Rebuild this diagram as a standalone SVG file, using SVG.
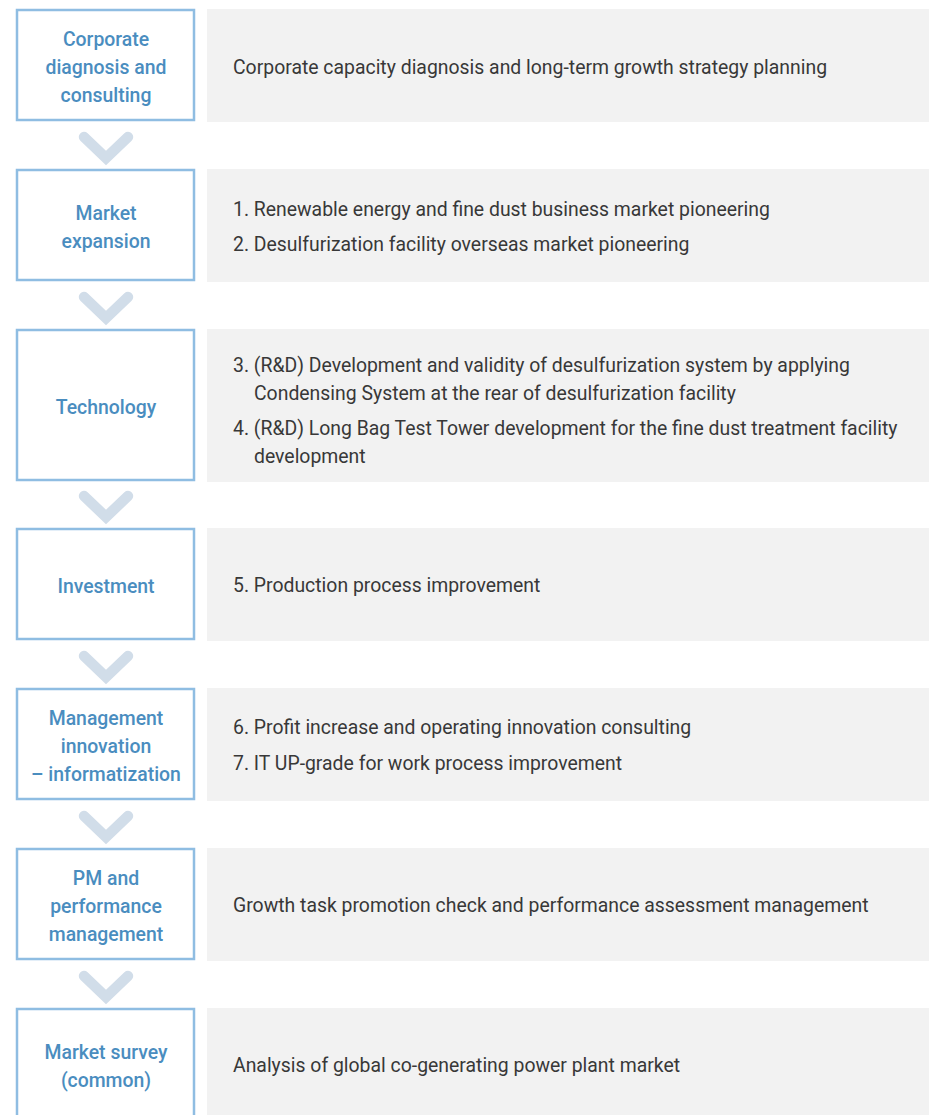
<svg xmlns="http://www.w3.org/2000/svg" width="929" height="1115" viewBox="0 0 929 1115">
<style>
.step{fill:#ffffff;stroke:#8fbde2;stroke-width:2.5}
.panel{fill:#f2f2f2}
.lbl{font-family:Roboto,"Liberation Sans",sans-serif;font-size:19.4px;font-weight:500;fill:#4a8dbf;text-anchor:middle}
.txt{font-family:Roboto,"Liberation Sans",sans-serif;font-size:19.4px;fill:#383838}
.chev{fill:none;stroke:#d1dde9;stroke-width:10.5;stroke-linecap:round;stroke-linejoin:miter}
</style>
<rect width="929" height="1115" fill="#ffffff"/>
<g id="connectors">
<polyline class="chev" points="84,137 106,158 128,137"/>
<polyline class="chev" points="84,297 106,318 128,297"/>
<polyline class="chev" points="84,496 106,517 128,496"/>
<polyline class="chev" points="84,656 106,677 128,656"/>
<polyline class="chev" points="84,816 106,837 128,816"/>
<polyline class="chev" points="84,976 106,997 128,976"/>
</g>
<g id="node1">
<rect class="step" x="17" y="10" width="177" height="110"/>
<rect class="panel" x="207" y="9" width="722" height="113"/>
<text class="lbl" x="106" y="46">Corporate</text>
<text class="lbl" x="106" y="74">diagnosis and</text>
<text class="lbl" x="106" y="102">consulting</text>
<text class="txt" x="233" y="74">Corporate capacity diagnosis and long-term growth strategy planning</text>
</g>
<g id="node2">
<rect class="step" x="17" y="170" width="177" height="110"/>
<rect class="panel" x="207" y="169" width="722" height="113"/>
<text class="lbl" x="106" y="220">Market</text>
<text class="lbl" x="106" y="248">expansion</text>
<text class="txt" x="233" y="216">1. Renewable energy and fine dust business market pioneering</text>
<text class="txt" x="233" y="251">2. Desulfurization facility overseas market pioneering</text>
</g>
<g id="node3">
<rect class="step" x="17" y="330" width="177" height="150"/>
<rect class="panel" x="207" y="329" width="722" height="153"/>
<text class="lbl" x="106" y="414">Technology</text>
<text class="txt" x="233" y="372">3. (R&amp;D) Development and validity of desulfurization system by applying</text>
<text class="txt" x="254" y="400">Condensing System at the rear of desulfurization facility</text>
<text class="txt" x="233" y="435">4. (R&amp;D) Long Bag Test Tower development for the fine dust treatment facility</text>
<text class="txt" x="254" y="463">development</text>
</g>
<g id="node4">
<rect class="step" x="17" y="529" width="177" height="110"/>
<rect class="panel" x="207" y="528" width="722" height="113"/>
<text class="lbl" x="106" y="593">Investment</text>
<text class="txt" x="233" y="592">5. Production process improvement</text>
</g>
<g id="node5">
<rect class="step" x="17" y="689" width="177" height="110"/>
<rect class="panel" x="207" y="688" width="722" height="113"/>
<text class="lbl" x="106" y="725">Management</text>
<text class="lbl" x="106" y="753">innovation</text>
<text class="lbl" x="106" y="781">– informatization</text>
<text class="txt" x="233" y="734">6. Profit increase and operating innovation consulting</text>
<text class="txt" x="233" y="770">7. IT UP-grade for work process improvement</text>
</g>
<g id="node6">
<rect class="step" x="17" y="849" width="177" height="110"/>
<rect class="panel" x="207" y="848" width="722" height="113"/>
<text class="lbl" x="106" y="885">PM and</text>
<text class="lbl" x="106" y="913">performance</text>
<text class="lbl" x="106" y="941">management</text>
<text class="txt" x="233" y="912">Growth task promotion check and performance assessment management</text>
</g>
<g id="node7">
<rect class="step" x="17" y="1009" width="177" height="120"/>
<rect class="panel" x="207" y="1008" width="722" height="120"/>
<text class="lbl" x="106" y="1059">Market survey</text>
<text class="lbl" x="106" y="1087">(common)</text>
<text class="txt" x="233" y="1072">Analysis of global co-generating power plant market</text>
</g>
</svg>
